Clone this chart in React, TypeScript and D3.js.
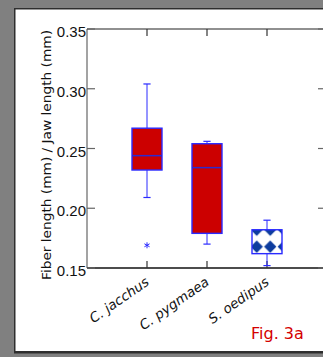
import * as d3 from "d3";

// box statistics
const categories = ["C. jacchus", "C. pygmaea", "S. oedipus"];
const q1 = [0.232, 0.179, 0.162];
const medians = [0.244, 0.234, 0.172];
const q3 = [0.267, 0.254, 0.182];
const whiskerLow = [0.209, 0.17, 0.152];
const whiskerHigh = [0.304, 0.256, 0.19];
const outliers = [[0.169], [], []];
const yTicks = [0.15, 0.2, 0.25, 0.3, 0.35];

const W = 323;
const H = 357;
const margin = { left: 87, top: 29, right: 326, bottom: 268 };

export default function App() {
    const x = d3.scaleLinear().domain([0, 4]).range([margin.left, margin.left + 240]);
    const y = d3.scaleLinear().domain([0.15, 0.35]).range([margin.bottom, margin.top]);
    const half = x(0.25) - x(0);
    const cap = x(0.06) - x(0);
    const blue = "#2a2aff";

    return (
        <svg width={W} height={H} style={{ position: "fixed", left: 0, top: 0 }}>
            <defs>
                <pattern id="diamonds" patternUnits="userSpaceOnUse" x={x(3) - 17} y={y(0.172) - 3.5} width={13.5} height={17}>
                    <rect width={13.5} height={17} fill="#ffffff" />
                    <path d="M6.75,2.3 L12.9,8.5 L6.75,14.7 L0.6,8.5 Z" fill="#0d3c9e" />
                </pattern>
            </defs>
            {/* page background */}
            <rect width={W} height={H} fill="#808080" />
            <rect x={14} y={8} width={W} height={345.5} fill="#2e2e2e" />
            <rect x={15.5} y={9.5} width={W} height={341.5} fill="#ffffff" />

            {/* y axis label */}
            <text
                transform={`translate(51,155) rotate(-90)`}
                textAnchor="middle"
                fontFamily="DejaVu Sans"
                fontSize={13}
                textLength={250}
                lengthAdjust="spacingAndGlyphs"
                fill="#111"
            >
                Fiber length (mm) / Jaw length (mm)
            </text>

            {/* axes frame */}
            <line x1={margin.left} x2={margin.left} y1={margin.top} y2={margin.bottom} stroke="#666" strokeWidth={1.2} />
            <line x1={margin.left} x2={margin.right} y1={margin.top} y2={margin.top} stroke="#222" strokeWidth={1.2} />
            <line x1={margin.left} x2={margin.right} y1={margin.bottom} y2={margin.bottom} stroke="#111" strokeWidth={1.4} />
            <line x1={margin.right} x2={margin.right} y1={margin.top} y2={margin.bottom} stroke="#222" strokeWidth={1.2} />

            {yTicks.map((t) => (
                <g key={t}>
                    <line x1={margin.left} x2={margin.left + 8} y1={y(t)} y2={y(t)} stroke="#666" strokeWidth={1.2} />
                    <line x1={margin.right - 8} x2={margin.right} y1={y(t)} y2={y(t)} stroke="#666" strokeWidth={1.2} />
                    <text x={margin.left - 1} y={y(t) + 8} textAnchor="end" fontFamily="Liberation Sans" fontSize={15} fill="#111">
                        {d3.format(".2f")(t)}
                    </text>
                </g>
            ))}

            {categories.map((c, i) => (
                <g key={c}>
                    <line x1={x(i + 1)} x2={x(i + 1)} y1={margin.top} y2={margin.top + 7} stroke="#333" strokeWidth={1.2} />
                    <line x1={x(i + 1)} x2={x(i + 1)} y1={margin.bottom - 7} y2={margin.bottom} stroke="#333" strokeWidth={1.2} />
                    <text
                        transform={`translate(${x(i + 1) + 3},${margin.bottom + 16}) rotate(-35)`}
                        textAnchor="end"
                        fontFamily="DejaVu Sans"
                        fontStyle="italic"
                        fontSize={13.5}
                        fill="#111"
                    >
                        {c}
                    </text>
                </g>
            ))}

            {/* boxes */}
            {categories.map((c, i) => {
                const cx = x(i + 1);
                const patterned = i === 2;
                return (
                    <g key={c}>
                        <line x1={cx} x2={cx} y1={y(q3[i])} y2={y(whiskerHigh[i])} stroke={blue} strokeWidth={1} />
                        <line x1={cx} x2={cx} y1={y(q1[i])} y2={y(whiskerLow[i])} stroke={blue} strokeWidth={1} />
                        <line x1={cx - cap} x2={cx + cap} y1={y(whiskerHigh[i])} y2={y(whiskerHigh[i])} stroke={blue} strokeWidth={1.2} />
                        <line x1={cx - cap} x2={cx + cap} y1={y(whiskerLow[i])} y2={y(whiskerLow[i])} stroke={blue} strokeWidth={1.2} />
                        <rect
                            x={cx - half}
                            y={y(q3[i])}
                            width={half * 2}
                            height={y(q1[i]) - y(q3[i])}
                            fill={patterned ? "url(#diamonds)" : "#cc0000"}
                            stroke={blue}
                            strokeWidth={1.4}
                        />
                        {!patterned && (
                            <line x1={cx - half} x2={cx + half} y1={y(medians[i])} y2={y(medians[i])} stroke="#2a2ad0" strokeWidth={1.5} />
                        )}
                        {outliers[i].map((o) => (
                            <g key={o} stroke={blue} strokeWidth={1}>
                                <line x1={cx} x2={cx} y1={y(o) - 3} y2={y(o) + 3} />
                                <line x1={cx - 2.6} x2={cx + 2.6} y1={y(o) - 1.5} y2={y(o) + 1.5} />
                                <line x1={cx - 2.6} x2={cx + 2.6} y1={y(o) + 1.5} y2={y(o) - 1.5} />
                            </g>
                        ))}
                    </g>
                );
            })}

            <text x={251} y={339} fontFamily="DejaVu Sans" fontSize={16} fill="#d40000">
                Fig. 3a
            </text>
        </svg>
    );
}
